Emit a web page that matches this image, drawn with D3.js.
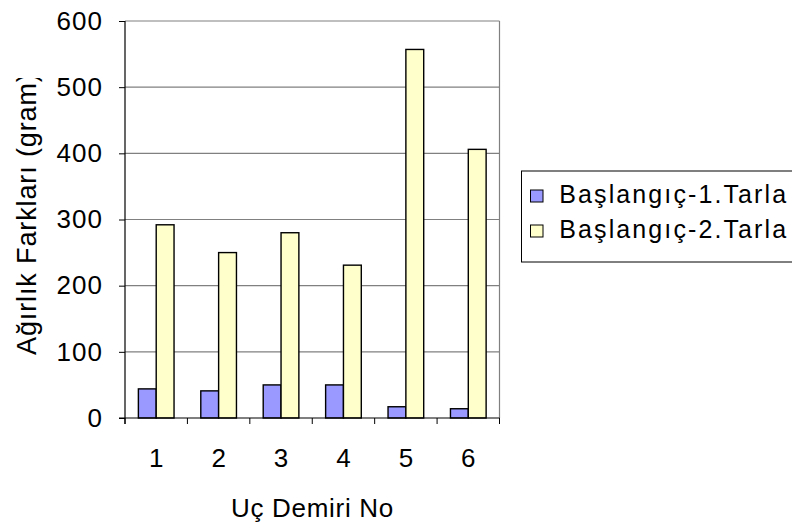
<!DOCTYPE html>
<html>
<head>
<meta charset="utf-8">
<script src="https://cdn.jsdelivr.net/npm/d3@7"></script>
<style>
  html, body { margin: 0; padding: 0; background: #fff; }
  svg { display: block; }
  text { font-family: "Liberation Sans", Arial, sans-serif; fill: #000; }
</style>
</head>
<body>
<svg id="chart" width="792" height="527"></svg>
<script>
// Weight differences per share (Uç Demiri) for the two fields
const categories = ["1", "2", "3", "4", "5", "6"];
const seriesNames = ["Başlangıç-1.Tarla", "Başlangıç-2.Tarla"];
const field1 = [44, 41, 50, 50, 17, 14];
const field2 = [292, 250, 280, 231, 557, 406];
const yTicks = [0, 100, 200, 300, 400, 500, 600];
const colors = ["#9999FF", "#FFFFCC"];

const FONT = "Liberation Sans, Arial, sans-serif";
const svg = d3.select("#chart");
const plot = { left: 125, right: 499.5, top: 21, bottom: 418 };

const x = d3.scaleBand().domain(categories).range([plot.left, plot.right]);
const y = d3.scaleLinear().domain([0, 600]).range([plot.bottom, plot.top]);

// Gap width of 150% between groups: each bar is band / 3.5
const barW = x.bandwidth() / 3.5;
const inner = d3.scaleBand().domain([0, 1]).range([barW * 0.75, barW * 2.75]);

// Gridlines
svg.append("g")
  .selectAll("line")
  .data(yTicks.filter(d => d > 0))
  .join("line")
  .attr("x1", plot.left).attr("x2", plot.right)
  .attr("y1", d => y(d)).attr("y2", d => y(d))
  .attr("stroke", "#808080").attr("stroke-width", 1.2);

// Right border of plot area
svg.append("line")
  .attr("x1", plot.right).attr("x2", plot.right)
  .attr("y1", plot.top).attr("y2", plot.bottom)
  .attr("stroke", "#808080").attr("stroke-width", 1.2);

// Bars
const data = categories.map((c, i) => ({ c, vals: [field1[i], field2[i]] }));
const groups = svg.append("g")
  .selectAll("g")
  .data(data)
  .join("g")
  .attr("transform", d => `translate(${x(d.c)},0)`);

groups.selectAll("rect")
  .data(d => d.vals.map((v, k) => ({ v, k })))
  .join("rect")
  .attr("x", d => inner(d.k))
  .attr("width", inner.bandwidth())
  .attr("y", d => y(d.v))
  .attr("height", d => y(0) - y(d.v))
  .attr("fill", d => colors[d.k])
  .attr("stroke", "#000")
  .attr("stroke-width", 1.4);

// Y axis
const yAxis = svg.append("g")
  .attr("transform", `translate(${plot.left},0)`)
  .call(d3.axisLeft(y).tickValues(yTicks).tickSize(6).tickPadding(16));
yAxis.select(".domain").attr("stroke", "#000").attr("stroke-width", 1.2)
  .attr("d", `M0,${plot.top}V${plot.bottom + 6}`);
yAxis.selectAll(".tick line").attr("stroke", "#000").attr("stroke-width", 1);
yAxis.selectAll("text")
  .attr("font-family", FONT).attr("font-size", 26)
  .style("letter-spacing", "1px")
  .attr("dy", "0.32em");

// X axis with ticks at category boundaries
const xAxis = svg.append("g")
  .attr("transform", `translate(0,${plot.bottom})`);
xAxis.append("line")
  .attr("x1", plot.left - 6).attr("x2", plot.right)
  .attr("stroke", "#000").attr("stroke-width", 1.2);
const bounds = categories.map(c => x(c)).concat([x(categories[categories.length - 1]) + x.bandwidth()]);
xAxis.selectAll("line.tk")
  .data(bounds)
  .join("line")
  .attr("class", "tk")
  .attr("x1", d => d).attr("x2", d => d)
  .attr("y1", 0).attr("y2", 6)
  .attr("stroke", "#000").attr("stroke-width", 1);
xAxis.selectAll("text")
  .data(categories)
  .join("text")
  .attr("x", d => x(d) + x.bandwidth() / 2)
  .attr("y", 48.7)
  .attr("text-anchor", "middle")
  .attr("font-size", 26)
  .text(d => d);

// Axis titles
svg.append("text")
  .attr("x", 312.5).attr("y", 516.7)
  .attr("text-anchor", "middle")
  .attr("font-size", 26)
  .style("letter-spacing", "0.7px")
  .text("Uç Demiri No");

// The vertical title runs past the top of its frame and is cut off there
const yTitle = "Ağırlık Farkları (gram)";
const visiblePart = yTitle.slice(0, -1);
const probe = svg.append("text").attr("font-size", 27).text(visiblePart);
const natural = probe.node().getComputedTextLength();
probe.remove();
const spacing = Math.max(0, (272 - natural) / (visiblePart.length - 1));

svg.append("clipPath").attr("id", "ytitle-clip")
  .append("rect").attr("x", 0).attr("y", 78).attr("width", 120).attr("height", 449);
svg.append("g")
  .attr("clip-path", "url(#ytitle-clip)")
  .append("text")
  .attr("transform", "translate(36,355) rotate(-90)")
  .attr("text-anchor", "start")
  .attr("font-size", 27)
  .style("letter-spacing", spacing + "px")
  .text(yTitle);

// Legend
const legend = svg.append("g");
legend.append("rect")
  .attr("x", 521.5).attr("y", 171).attr("width", 290).attr("height", 91)
  .attr("fill", "#fff").attr("stroke", "#000").attr("stroke-width", 1);
seriesNames.forEach((name, k) => {
  const ry = 190 + k * 35;
  legend.append("rect")
    .attr("x", 530.5).attr("y", ry).attr("width", 12.5).attr("height", 12)
    .attr("fill", colors[k]).attr("stroke", "#000").attr("stroke-width", 1);
  legend.append("text")
    .attr("x", 559.3).attr("y", 203.3 + k * 35)
    .attr("font-size", 25)
    .style("letter-spacing", "2.1px")
    .text(name);
});
</script>
</body>
</html>
